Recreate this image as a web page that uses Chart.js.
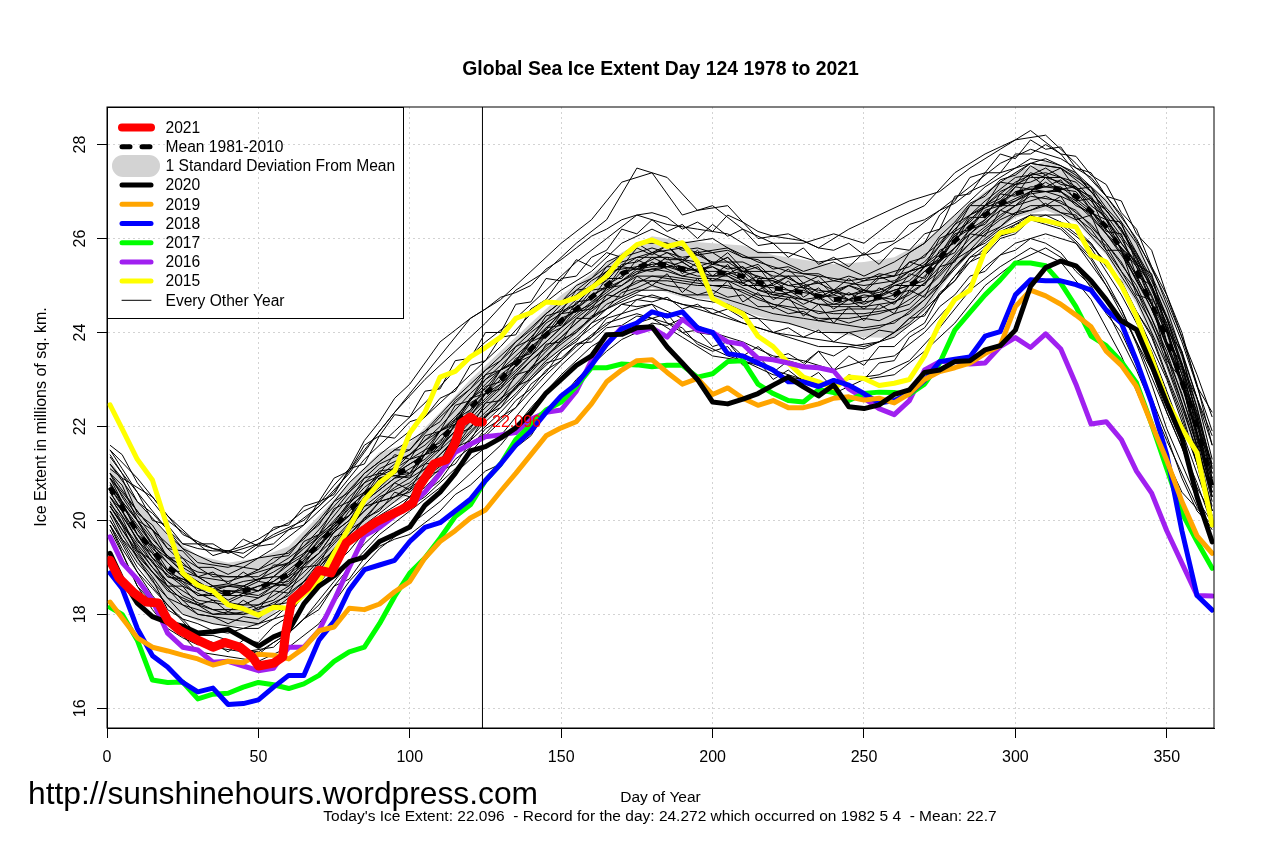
<!DOCTYPE html>
<html>
<head>
<meta charset="utf-8">
<title>Global Sea Ice Extent</title>
<script src="https://cdn.jsdelivr.net/npm/chart.js@4/dist/chart.umd.min.js"></script>
<style>
  html, body { margin: 0; padding: 0; background: #fff; }
  #wrap { width: 1284px; height: 855px; }
</style>
</head>
<body>
<div id="wrap"><canvas id="chart" width="1284" height="855"></canvas></div>
<script>
var xTicks = [0, 50, 100, 150, 200, 250, 300, 350];
var yTicks = [16, 18, 20, 22, 24, 26, 28];

// bold years share this day grid
var dayGrid = [1,5,10,15,20,25,30,35,40,45,50,55,60,65,70,75,80,85,90,95,100,105,110,115,120,125,130,135,140,145,150,155,160,165,170,175,180,185,190,195,200,205,210,215,220,225,230,235,240,245,250,255,260,265,270,275,280,285,290,295,300,305,310,315,320,325,330,335,340,345,350,355,360,365];
var ice2015 = [22.46,21.95,21.3,20.86,19.85,18.88,18.62,18.5,18.2,18.12,17.98,18.15,18.13,18.42,18.7,19.3,19.85,20.43,20.8,21.05,21.86,22.3,23.05,23.17,23.48,23.68,23.9,24.3,24.42,24.65,24.63,24.74,24.95,25.2,25.6,25.87,25.97,25.83,25.91,25.5,24.72,24.55,24.4,23.92,23.7,23.35,23.05,22.95,22.8,23.05,23.02,22.87,22.92,23.0,23.5,24.2,24.7,24.9,25.75,26.12,26.19,26.43,26.38,26.3,26.25,25.65,25.5,25.0,24.35,23.45,22.55,21.95,21.44,19.9];
var ice2016 = [19.65,19.1,18.75,18.3,17.6,17.3,17.24,16.98,17.0,16.9,16.8,16.85,17.3,17.3,17.65,18.3,19.0,19.67,19.85,20.1,20.3,20.6,21.0,21.45,21.62,21.78,21.82,21.87,22.15,22.3,22.35,22.75,23.4,23.75,24.1,24.0,24.1,23.9,24.28,24.05,24.0,23.8,23.75,23.45,23.42,23.35,23.27,23.25,23.18,22.8,22.6,22.38,22.25,22.55,23.2,23.38,23.38,23.33,23.35,23.7,23.89,23.68,23.97,23.65,22.9,22.05,22.1,21.72,21.05,20.58,19.78,19.09,18.4,18.39];
var ice2017 = [18.15,18.0,17.45,16.6,16.55,16.56,16.2,16.3,16.32,16.45,16.55,16.5,16.42,16.52,16.7,17.0,17.2,17.3,17.8,18.38,18.88,19.2,19.62,20.08,20.33,20.85,21.2,21.72,22.03,22.35,22.52,22.85,23.25,23.25,23.33,23.31,23.27,23.3,23.3,23.05,23.12,23.38,23.4,22.9,22.7,22.55,22.52,22.78,22.72,22.55,22.7,22.73,22.72,22.68,22.9,23.35,24.05,24.43,24.8,25.12,25.48,25.48,25.42,25.05,24.55,23.92,23.72,23.38,22.93,22.05,21.1,20.16,19.55,18.98];
var ice2018 = [18.88,18.55,17.7,17.12,16.88,16.55,16.35,16.43,16.08,16.1,16.18,16.45,16.7,16.7,17.45,17.85,18.52,18.95,19.05,19.15,19.55,19.85,19.95,20.2,20.45,20.85,21.2,21.6,21.9,22.3,22.65,22.9,23.3,23.75,24.08,24.2,24.44,24.35,24.44,24.1,24.0,23.55,23.5,23.35,23.2,22.95,22.95,22.85,22.98,22.88,22.7,22.5,22.55,22.7,22.98,23.38,23.43,23.48,23.92,24.02,24.8,25.12,25.1,25.1,25.02,24.9,24.48,24.2,23.4,22.5,21.4,19.78,18.4,18.09];
var ice2019 = [18.26,17.92,17.5,17.3,17.22,17.13,17.05,16.92,17.0,16.97,17.15,17.13,17.05,17.28,17.65,17.73,18.13,18.1,18.22,18.48,18.7,19.2,19.55,19.78,20.05,20.22,20.62,21.0,21.4,21.8,21.97,22.1,22.48,22.95,23.2,23.4,23.42,23.15,22.9,23.02,22.68,22.82,22.6,22.45,22.55,22.4,22.4,22.48,22.6,22.63,22.56,22.6,22.5,22.7,23.0,23.17,23.25,23.35,23.55,23.72,24.55,24.9,24.78,24.6,24.37,24.12,23.6,23.3,22.85,22.05,21.28,20.4,19.67,19.3];
var ice2020 = [19.3,18.75,18.24,17.95,17.83,17.75,17.6,17.63,17.68,17.5,17.32,17.52,17.65,18.22,18.6,18.82,19.12,19.22,19.55,19.7,19.86,20.32,20.6,21.0,21.48,21.57,21.75,21.97,22.29,22.71,23.0,23.3,23.5,23.95,23.96,24.1,24.12,23.69,23.35,23.0,22.52,22.48,22.58,22.7,22.88,23.05,22.84,22.65,22.88,22.42,22.38,22.46,22.68,22.78,23.15,23.2,23.38,23.4,23.63,23.72,24.05,24.98,25.38,25.52,25.42,25.1,24.7,24.25,24.06,23.3,22.5,21.75,20.5,19.54];
var days2021 = [1,4,9,13,17,20,24,30,35,39,44,48,50,55,58,59,61,66,70,74,79,85,89,97,101,103,108,112,115,117,120,122,124];
var ice2021 = [19.15,18.77,18.45,18.26,18.24,17.88,17.66,17.45,17.3,17.4,17.3,17.09,16.9,16.96,17.09,17.6,18.3,18.58,18.94,18.88,19.52,19.8,19.97,20.22,20.37,20.71,21.2,21.29,21.65,22.07,22.2,22.1,22.096];

// mean and one standard deviation band
var bandDays = [1,10,20,30,40,50,60,70,80,90,100,110,120,130,140,150,160,170,180,190,200,210,220,230,240,250,260,270,280,290,300,310,320,330,340,350,360,365];
var meanExtent = [20.7,19.75,19,18.6,18.45,18.55,18.85,19.5,20.2,20.85,21.1,21.7,22.4,23,23.65,24.25,24.75,25.25,25.5,25.35,25.3,25.2,24.95,24.85,24.7,24.72,24.8,25.2,25.95,26.5,26.95,27.15,26.9,26.25,25.3,23.9,22,20.7];
var sdUpper = [21.3,20.4,19.7,19.25,19.1,19.2,19.45,20.1,20.8,21.45,21.65,22.3,23,23.6,24.2,24.8,25.25,25.7,26.05,25.95,25.9,25.85,25.65,25.55,25.45,25.5,25.6,25.95,26.5,27,27.4,27.65,27.4,26.85,25.95,24.6,22.65,21.3];
var sdLower = [20.1,19.1,18.15,17.85,17.75,17.75,18.3,18.9,19.6,20.2,20.55,21.1,21.8,22.45,23.05,23.65,24.25,24.75,24.95,24.75,24.7,24.45,24.25,24.1,23.98,23.9,23.88,24.45,25.35,25.95,26.45,26.6,26.35,25.65,24.6,23.2,21.35,20.1];

// every other year, thin lines
var daysA = [1,10,20,30,40,50,60,70,80,90,100,110,120,130,140,150,160,170,180,190,200,210,220,230,240,250,260,270,280,290,300,310,320,330,340,350,360,365];
var daysB = [1,5,15,25,35,45,55,65,75,85,95,105,115,125,135,145,155,165,175,185,195,205,215,225,235,245,255,265,275,285,295,305,315,325,335,345,355,365];
var thinA = [
  [21.5,20.9,20.1,19.5,19.3,19.5,19.8,20.3,21,21.9,22.7,23.5,24.3,24.7,25.3,25.9,26.4,27.2,27.4,26.5,26.7,26.2,25.9,25.9,26.1,25.9,26.4,26.7,27.4,27.8,28.1,28.2,27.6,26.9,26,24.7,23.1,22.2],
  [21.2,20.4,19.7,19.1,19,19.2,19.3,20,20.8,21.4,21.9,22.5,23.1,23.7,24.4,24.9,25.3,25.9,26.2,25.9,26,25.6,25.6,25.3,25.5,25.2,25.5,25.9,26.5,27.1,27.5,27.7,27.4,26.8,25.9,24.5,22.6,21.3],
  [20.9,20.1,19.2,18.9,18.8,18.8,19.2,19.7,20.5,21.1,21.4,22,22.7,23.3,23.9,24.6,25,25.6,25.8,25.6,25.7,25.3,25.3,25,25.1,25,25.1,25.5,26.2,26.8,27.3,27.4,27.2,26.5,25.6,24.2,22.3,21],
  [20.3,19.5,18.7,18.3,18.2,18.2,18.6,19.2,19.9,20.5,20.8,21.4,22.1,22.7,23.4,23.9,24.5,24.9,25.2,25.1,25,24.9,24.6,24.5,24.4,24.4,24.5,24.9,25.6,26.2,26.7,26.9,26.6,25.9,25,23.6,21.7,20.4],
  [20.7,19.9,19.1,18.5,18.6,18.5,18.9,19.4,20.3,20.8,21.2,21.6,22.5,22.9,23.7,24.2,24.8,25.1,25.6,25.3,25.4,25.1,25.1,24.7,24.8,24.6,24.9,25.1,26,26.4,27,27.1,27,26.2,25.4,23.8,22.1,20.6],
  [20.5,19.6,18.8,18.7,18.3,18.6,18.7,19.6,20.1,20.9,21,21.8,22.3,23.1,23.6,24.3,24.6,25.3,25.4,25.4,25.2,25.3,24.8,24.9,24.6,24.8,24.7,25.3,25.8,26.6,26.8,27.2,26.8,26.3,25.2,24,21.9,20.8],
  [21,20.2,19.4,18.8,18.7,18.9,19.1,19.8,20.6,21.2,21.5,22.2,22.8,23.4,24,24.5,25.1,25.5,25.7,25.8,25.5,25.5,25.2,25.2,24.9,25.1,25.2,25.4,26.3,26.7,27.2,27.5,27.1,26.6,25.7,24.3,22.4,21.1],
  [20.2,19.3,18.5,18.2,18,18.1,18.4,19,19.7,20.4,20.6,21.2,21.9,22.5,23.2,23.8,24.3,24.7,25,24.8,24.8,24.6,24.4,24.3,24.2,24.1,24.2,24.7,25.4,26,26.5,26.7,26.4,25.7,24.7,23.3,21.5,20.2],
  [20.8,19.8,18.9,18.4,18.5,18.4,18.8,19.3,20.2,20.7,21.3,21.5,22.6,22.8,23.8,24.1,24.9,25,25.5,25.2,25.4,25,25,24.6,24.9,24.5,25,25,26.1,26.3,27.1,27,27.1,26.1,25.5,23.7,22.2,20.5],
  [20,19,18.2,17.5,17.3,17.2,17.6,18.2,19,19.7,20.2,20.7,21.3,21.8,22.6,23.3,23.9,24.4,24.6,24.3,24,23.8,23.5,23.4,23.2,23.4,23.5,24,24.7,25.4,25.9,26.1,25.9,25,23.8,22.3,20.8,19.9],
  [20.4,19.4,18.6,18,17.9,17.8,18.2,18.8,19.5,20.1,20.5,21.1,21.7,22.3,23,23.6,24.1,24.6,24.8,24.6,24.5,24.2,24,23.9,23.8,23.7,23.9,24.4,25.2,25.8,26.3,26.5,26.2,25.5,24.4,23,21.2,20.2],
  [20.6,19.7,18.9,18.6,18.4,18.7,18.6,19.5,20,21,20.9,21.9,22.2,23.2,23.5,24.4,24.5,25.4,25.3,25.5,25.1,25.4,24.7,25,24.5,24.9,24.6,25.4,25.7,26.7,26.7,27.3,26.7,26.4,25.1,24.1,21.8,20.7],
  [19.9,18.6,17.9,17.2,17.1,17,17.3,17.8,18.7,19.4,19.9,20.4,21,21.6,22.4,23.1,23.7,24.1,24.3,23.9,23.5,23.4,23.1,23,22.7,23,23.1,23.6,24.2,25,25.5,25.8,25.4,24.5,23.2,21.7,20.3,19.8]
];
var thinB = [
  [21.2,20.9,20.5,19.7,19.4,19.3,19.7,20,20.6,21.5,22.3,23,23.6,24.2,24.9,25.3,25.9,26.4,27.5,27.3,26.6,26.7,26,26.1,25.8,26.2,26.5,26.8,27,27.5,27.9,28.3,27.8,27,26.2,25.1,23.6,21.6],
  [20.9,20.6,19.8,19.2,18.8,18.8,19.1,19.6,20.3,21,21.5,21.9,22.6,23.2,23.8,24.4,24.9,25.4,25.9,25.9,25.7,25.8,25.5,25.3,25.2,25.1,25.2,25.4,25.9,26.7,27.2,27.6,27.5,27,26.2,25,23.3,21.2],
  [20.6,20.2,19.2,18.7,18.4,18.4,18.6,19.1,19.8,20.4,20.9,21.3,21.9,22.6,23.2,23.8,24.4,24.9,25.3,25.4,25.2,25.2,24.9,24.8,24.6,24.6,24.7,24.9,25.5,26.1,26.7,27,27,26.5,25.7,24.5,22.9,20.6],
  [20.3,19.9,19,18.4,18.1,18.1,18.3,18.8,19.5,20.2,20.7,21.1,21.7,22.3,22.9,23.6,24.2,24.7,25.1,25.1,25,25,24.7,24.5,24.3,24.3,24.4,24.6,25.2,25.9,26.4,26.7,26.7,26.2,25.3,24.2,22.5,20.3],
  [21,20.5,19.5,19,18.6,18.6,18.9,19.3,20,20.7,21.2,21.6,22.2,22.9,23.5,24.1,24.7,25.2,25.6,25.6,25.5,25.4,25.2,25,24.9,24.8,24.9,25.2,25.7,26.4,27,27.3,27.3,26.8,26,24.8,23.2,21],
  [20.8,20.4,19.6,18.9,18.5,18.7,18.8,19.4,19.9,20.8,21.1,21.7,22.1,23,23.4,24.2,24.6,25.3,25.4,25.7,25.3,25.6,24.9,25.2,24.7,25,24.8,25.3,25.5,26.5,26.8,27.4,27.2,26.9,25.9,25,23.1,20.9],
  [20.5,20.1,19.1,18.6,18.3,18.2,18.5,19,19.6,20.3,20.8,21.2,21.8,22.5,23.1,23.7,24.3,24.8,25.2,25.2,25.1,25.1,24.8,24.7,24.4,24.5,24.5,24.8,25.3,26,26.5,26.9,26.8,26.3,25.5,24.3,22.7,20.5],
  [19.9,19.4,18.4,17.6,17.3,17.2,17.3,17.9,18.7,19.5,20.1,20.5,21.1,21.8,22.4,23.1,23.7,24.2,24.4,24.2,23.8,23.5,23.3,23.1,22.9,23,23.1,23.4,24.1,24.9,25.4,25.8,25.5,24.7,23.5,22,20.6,19.9],
  [20.2,19.7,18.7,18,17.8,17.7,17.9,18.5,19.2,19.9,20.4,20.9,21.4,22.1,22.7,23.4,23.9,24.5,24.8,24.7,24.5,24.3,24.1,23.9,23.7,23.7,23.8,24.2,24.8,25.6,26.1,26.4,26.3,25.8,24.8,23.6,21.9,20.1],
  [21.4,21,20.2,19.4,19.1,19,19.4,19.9,20.5,21.3,21.9,22.5,23.2,23.8,24.3,24.9,25.5,26,26.5,26.3,26.2,26.1,25.7,25.7,25.5,25.6,25.7,26.1,26.6,27.1,27.6,27.9,27.7,27.3,26.5,25.4,23.8,21.9],
  [20.7,20.3,19.4,18.8,18.5,18.5,18.7,19.2,19.9,20.6,21,21.4,22,22.7,23.3,24,24.5,25,25.4,25.5,25.3,25.3,25,24.9,24.8,24.7,24.8,25,25.6,26.3,26.8,27.1,27.1,26.6,25.8,24.6,23,20.7],
  [20.1,19.6,18.9,18.2,18,18,18.1,18.6,19.4,20,20.5,21,21.5,22.2,22.8,23.5,24,24.6,24.9,24.9,24.7,24.6,24.3,24.2,24,24,24.1,24.4,25,25.7,26.2,26.5,26.5,25.9,25,23.9,22.2,20.2]
];
// thin years read on the same 5 day grid as the bold ones
var thinC = [
  [21.5,21.1,20.6,20.0,19.9,19.5,19.5,19.25,19.35,19.2,19.45,19.5,19.8,19.9,20.4,20.55,21.1,21.2,21.8,21.75,22.1,22.2,22.6,22.75,23.3,23.4,23.9,23.95,24.5,24.7,25.15,25.2,25.6,25.75,26.2,26.1,26.4,26.15,26.3,26.0,26.3,26.05,26.2,25.85,25.9,25.6,25.8,25.45,25.6,25.4,25.7,25.45,25.8,25.75,26.1,26.2,26.9,26.95,27.4,27.4,27.8,27.8,28.0,27.8,27.75,27.35,27.15,26.55,26.2,25.4,24.8,23.9,22.9,21.6],
  [21.1,20.9,20.15,19.9,19.4,19.35,19.0,19.0,18.85,19.0,18.95,19.2,19.25,19.65,19.9,20.4,20.6,21.0,21.25,21.5,21.5,21.9,22.1,22.55,22.8,23.2,23.4,23.8,24.05,24.4,24.65,25.0,25.15,25.5,25.65,25.9,25.95,25.9,25.75,25.8,25.7,25.75,25.6,25.55,25.35,25.4,25.25,25.25,25.1,25.2,25.1,25.25,25.2,25.5,25.6,26.05,26.35,26.75,26.9,27.25,27.35,27.6,27.55,27.5,27.3,27.1,26.65,26.3,25.7,25.15,24.3,23.5,22.4,21.1],
  [20.9,20.4,20.0,19.45,19.2,18.9,18.8,18.6,18.65,18.6,18.75,18.8,19.05,19.25,19.7,19.95,20.4,20.6,21.05,21.1,21.3,21.5,21.9,22.15,22.6,22.8,23.2,23.4,23.85,24.05,24.45,24.6,24.95,25.1,25.45,25.5,25.7,25.55,25.55,25.4,25.5,25.35,25.4,25.15,25.15,25.0,25.05,24.85,24.9,24.8,24.9,24.85,25.0,25.1,25.4,25.65,26.15,26.35,26.7,26.85,27.15,27.2,27.35,27.15,27.1,26.7,26.45,25.9,25.5,24.75,24.1,23.1,22.2,20.9],
  [20.5,20.2,19.55,19.3,18.8,18.7,18.4,18.4,18.25,18.4,18.35,18.6,18.65,19.05,19.3,19.75,20.0,20.4,20.65,20.9,20.95,21.25,21.55,21.9,22.25,22.55,22.85,23.15,23.5,23.8,24.1,24.35,24.6,24.85,25.1,25.25,25.35,25.3,25.2,25.15,25.15,25.1,25.05,24.9,24.8,24.75,24.7,24.6,24.55,24.55,24.55,24.6,24.65,24.85,25.05,25.4,25.8,26.1,26.35,26.6,26.8,26.95,27.0,26.9,26.75,26.45,26.1,25.65,25.15,24.5,23.75,22.85,21.85,20.5],
  [20.2,19.8,19.35,18.9,18.6,18.3,18.2,18.0,18.05,18.0,18.15,18.2,18.45,18.7,19.1,19.35,19.8,20.0,20.4,20.5,20.7,20.9,21.3,21.55,22.0,22.2,22.6,22.8,23.25,23.45,23.85,24.0,24.35,24.5,24.85,24.95,25.1,25.0,24.95,24.8,24.9,24.75,24.8,24.55,24.55,24.4,24.45,24.25,24.3,24.2,24.3,24.25,24.4,24.5,24.8,25.05,25.55,25.75,26.1,26.25,26.55,26.6,26.75,26.55,26.5,26.1,25.85,25.3,24.9,24.15,23.5,22.5,21.6,20.2],
  [19.9,19.5,18.9,18.55,18.2,17.9,17.8,17.65,17.6,17.7,17.7,17.9,18.0,18.4,18.65,19.05,19.35,19.75,19.95,20.25,20.25,20.6,20.85,21.3,21.55,21.95,22.15,22.55,22.8,23.2,23.4,23.75,23.9,24.3,24.4,24.7,24.65,24.75,24.5,24.6,24.4,24.5,24.3,24.3,24.0,24.1,23.9,24.05,23.8,24.0,23.85,24.05,24.0,24.3,24.35,24.85,25.1,25.6,25.7,26.05,26.15,26.4,26.35,26.35,26.1,25.9,25.4,25.1,24.45,23.95,23.1,22.3,21.2,19.9],
  [21.6,21.4,20.8,20.4,20.0,19.75,19.5,19.5,19.3,19.6,19.45,19.85,19.9,20.3,20.4,20.9,21.05,21.6,21.8,22.25,22.2,22.75,22.8,23.4,23.45,24.0,24.0,24.6,24.65,25.15,25.1,25.55,25.4,25.7,25.6,25.9,25.7,25.85,25.55,25.7,25.45,25.6,25.3,25.4,25.0,25.2,24.95,25.1,24.8,25.0,24.85,25.15,25.2,25.7,25.9,26.5,26.8,27.3,27.4,27.8,27.7,28.1,27.9,27.95,27.5,27.4,26.9,26.8,26.1,25.75,24.8,24.0,22.85,22.3],
  [20.3,19.9,19.2,18.8,18.35,18.2,18.0,17.95,17.8,17.95,17.9,18.2,18.25,18.7,18.9,19.4,19.55,20.05,20.2,20.6,20.5,20.95,21.05,21.55,21.7,22.25,22.4,22.85,23.0,23.35,23.45,23.75,23.8,24.1,24.15,24.35,24.3,24.4,24.0,24.05,23.7,23.8,23.4,23.5,23.15,23.4,23.3,23.6,23.2,23.5,23.3,23.7,23.7,24.0,24.2,24.8,25.1,25.5,25.65,26.0,26.1,26.4,26.3,26.2,25.9,25.55,25.0,24.5,23.8,23.2,22.3,21.55,20.7,20.1],
  [19.8,19.3,18.6,18.1,17.7,17.5,17.35,17.4,17.2,17.45,17.4,17.75,17.95,18.45,18.8,19.2,19.5,19.7,20.1,20.15,20.5,20.7,21.05,21.2,21.65,21.85,22.2,22.4,22.9,23.15,23.6,23.8,24.2,24.35,24.6,24.55,24.6,24.2,24.1,23.75,23.6,23.7,23.3,23.4,23.0,23.2,22.95,23.15,22.8,23.1,23.0,23.35,23.4,23.9,24.1,24.55,24.8,25.2,25.3,25.65,25.75,26.0,25.9,25.7,25.3,25.0,24.4,24.0,23.3,22.6,21.8,20.9,20.2,19.85],
  [21.0,20.75,20.0,19.8,19.2,19.2,18.8,18.9,18.65,18.9,18.7,19.05,19.05,19.55,19.7,20.25,20.4,20.9,21.0,21.4,21.3,21.8,21.9,22.45,22.55,23.1,23.2,23.7,23.85,24.35,24.45,24.9,24.95,25.4,25.4,25.8,25.65,25.85,25.5,25.75,25.45,25.7,25.35,25.45,25.15,25.35,25.05,25.2,24.9,25.15,24.9,25.2,25.05,25.5,25.4,26.0,26.15,26.7,26.7,27.2,27.15,27.55,27.35,27.5,27.05,27.1,26.4,26.35,25.45,25.25,24.05,23.6,22.1,21.15],
  [20.35,20.05,19.35,19.15,18.6,18.6,18.2,18.3,18.05,18.3,18.1,18.5,18.45,19.0,19.05,19.65,19.75,20.3,20.4,20.8,20.65,21.2,21.25,21.85,21.95,22.5,22.55,23.1,23.2,23.75,23.8,24.3,24.3,24.8,24.75,25.2,25.0,25.25,24.85,25.15,24.8,25.1,24.65,24.85,24.5,24.75,24.35,24.6,24.2,24.55,24.25,24.6,24.4,24.9,24.75,25.4,25.5,26.1,26.05,26.6,26.5,27.0,26.7,26.9,26.4,26.5,25.75,25.75,24.8,24.7,23.4,23.0,21.5,20.6],
  [21.35,21.0,20.4,20.15,19.8,19.5,19.4,19.35,19.35,19.45,19.6,19.8,19.95,20.2,20.35,20.75,21.1,21.7,22.1,22.6,22.9,23.35,23.8,24.05,24.3,24.5,24.75,24.85,25.0,25.35,25.55,25.8,26.05,26.2,26.4,26.5,26.55,26.45,26.2,26.35,26.15,26.5,26.35,26.15,26.05,26.0,25.95,25.8,25.75,25.9,25.65,25.9,25.95,26.3,26.4,26.6,26.75,27.0,27.15,27.4,27.5,27.7,27.65,27.55,27.35,27.0,26.6,26.2,25.55,24.95,24.3,23.3,22.6,21.8],
  [20.0,19.6,19.1,18.75,18.1,17.9,17.55,17.55,17.45,17.3,17.15,17.4,17.6,17.9,18.1,18.6,18.75,19.2,19.45,19.6,19.7,19.95,20.2,20.55,20.75,21.05,21.2,21.55,21.8,22.3,22.6,23.0,23.3,23.6,23.85,24.0,24.2,24.15,24.3,24.0,23.95,23.8,23.5,23.7,23.45,23.55,23.35,23.6,23.5,23.7,23.65,23.8,24.0,24.3,24.55,25.0,25.4,25.75,25.9,26.15,26.3,26.5,26.35,26.25,25.95,25.6,25.1,24.5,23.75,22.9,21.95,21.2,20.45,19.95],
  [20.75,20.4,19.7,19.45,18.95,18.9,18.55,18.6,18.4,18.6,18.5,18.8,18.8,19.3,19.45,19.95,20.1,20.6,20.75,21.15,21.0,21.5,21.65,22.15,22.35,22.85,22.95,23.45,23.55,24.1,24.15,24.65,24.7,25.15,25.15,25.55,25.4,25.6,25.25,25.5,25.2,25.45,25.05,25.2,24.85,25.1,24.75,24.95,24.65,24.85,24.65,24.95,24.8,25.25,25.15,25.75,25.9,26.45,26.45,26.95,26.9,27.35,27.1,27.25,26.8,26.85,26.15,26.1,25.2,25.0,23.8,23.35,21.85,20.85]
];

// day marker for the current day
var markerDay = [124, 124];
var markerRange = [15.58, 28.8];

var legendRows = [
  ['2021', '#ff0000', 8, null],
  ['Mean 1981-2010', '#000000', 5, [8, 12]],
  ['1 Standard Deviation From Mean', '#d3d3d3', 22, null],
  ['2020', '#000000', 5, null],
  ['2019', '#ffa500', 5, null],
  ['2018', '#0000ff', 5, null],
  ['2017', '#00ff00', 5, null],
  ['2016', '#a020f0', 5, null],
  ['2015', '#ffff00', 5, null],
  ['Every Other Year', '#000000', 1, null]
];

function pairs(xs, ys) {
  return xs.map(function (x, i) { return { x: x, y: ys[i] }; });
}

function bold(label, xs, ys, color, width) {
  return { label: label, data: pairs(xs, ys), borderColor: color, borderWidth: width, borderCapStyle: 'round', borderJoinStyle: 'round', pointRadius: 0, fill: false, tension: 0 };
}

function thin(label, xs, ys) {
  return { label: label, data: pairs(xs, ys), borderColor: '#000', borderWidth: 1, pointRadius: 0 };
}

var datasets = [
  { label: 'Day', data: pairs(markerDay, markerRange), borderColor: '#000', borderWidth: 1, pointRadius: 0 },
  bold('2021', days2021, ice2021, '#ff0000', 9),
  bold('2020', dayGrid, ice2020, '#000000', 5),
  bold('2019', dayGrid, ice2019, '#ffa500', 5),
  bold('2018', dayGrid, ice2018, '#0000ff', 5),
  bold('2017', dayGrid, ice2017, '#00ff00', 5),
  bold('2016', dayGrid, ice2016, '#a020f0', 5),
  bold('2015', dayGrid, ice2015, '#ffff00', 5),
  { label: 'Mean 1981-2010', data: pairs(bandDays, meanExtent), borderColor: '#000', borderWidth: 5, borderDash: [8, 12], pointRadius: 0 }
];
thinC.forEach(function (ys, i) { datasets.push(thin('C' + i, dayGrid, ys)); });
thinA.forEach(function (ys, i) { datasets.push(thin('A' + i, daysA, ys)); });
thinB.forEach(function (ys, i) { datasets.push(thin('B' + i, daysB, ys)); });
datasets.push({ label: 'SD upper', data: pairs(bandDays, sdUpper), borderWidth: 0, pointRadius: 0, backgroundColor: '#d3d3d3', fill: '+1' });
datasets.push({ label: 'SD lower', data: pairs(bandDays, sdLower), borderWidth: 0, pointRadius: 0, fill: false });

var FONT = '"Liberation Sans", Arial, sans-serif';

function put(ctx, text, x, y, font, color, align, rot) {
  ctx.save();
  ctx.font = font;
  ctx.fillStyle = color || '#000';
  ctx.textAlign = align || 'center';
  ctx.textBaseline = 'middle';
  ctx.translate(x, y);
  if (rot) ctx.rotate(rot);
  ctx.fillText(text, 0, 0);
  ctx.restore();
}

var decor = {
  id: 'decor',
  afterDatasetsDraw: function (chart) {
    var ctx = chart.ctx, a = chart.chartArea;
    // plot box
    ctx.save();
    ctx.strokeStyle = '#000';
    ctx.lineWidth = 1;
    ctx.strokeRect(a.left, a.top, a.right - a.left, a.bottom - a.top);
    // legend
    ctx.strokeRect(107.5, 107.5, 296, 211);
    legendRows.forEach(function (r, i) {
      var y = 127.5 + i * 19.2;
      ctx.beginPath();
      ctx.lineCap = 'round';
      ctx.strokeStyle = r[1];
      ctx.lineWidth = r[2];
      ctx.setLineDash(r[3] || []);
      if (r[2] > 10) { ctx.moveTo(123, y); ctx.lineTo(149, y); }
      else { ctx.moveTo(122, y); ctx.lineTo(151, y); }
      ctx.stroke();
      ctx.setLineDash([]);
      put(ctx, r[0], 165.5, y + 1, '15.6px ' + FONT, '#000', 'left');
    });
    ctx.restore();

    yTicks.forEach(function (v) {
      put(ctx, String(v), 81, chart.scales.y.getPixelForValue(v), '16px ' + FONT, '#000', 'center', -Math.PI / 2);
    });
    put(ctx, 'Global Sea Ice Extent Day 124 1978 to 2021', 660.5, 70, 'bold 19.4px ' + FONT);
    put(ctx, 'Ice Extent in millions of sq. km.', 42, 417, '16px ' + FONT, '#000', 'center', -Math.PI / 2);
    put(ctx, 'Day of Year', 660.5, 798, '15.5px ' + FONT);
    put(ctx, "Today's Ice Extent: 22.096  - Record for the day: 24.272 which occurred on 1982 5 4  - Mean: 22.7", 660, 817, '15.5px ' + FONT);
    put(ctx, 'http://sunshinehours.wordpress.com', 28, 795, '31.75px ' + FONT, '#000', 'left');
    put(ctx, '22.096', 492, 423, '16px ' + FONT, '#ff0000', 'left');
  }
};

new Chart(document.getElementById('chart').getContext('2d'), {
  type: 'line',
  data: { datasets: datasets },
  plugins: [decor],
  options: {
    responsive: false,
    animation: false,
    layout: { padding: { top: 107, right: 70, left: 0, bottom: 0 } },
    plugins: { legend: { display: false }, title: { display: false }, tooltip: { enabled: false } },
    elements: { line: { tension: 0 } },
    scales: {
      x: {
        type: 'linear',
        min: 0,
        max: 365.6,
        afterBuildTicks: function (s) { s.ticks = xTicks.map(function (v) { return { value: v }; }); },
        afterFit: function (s) { s.height = 127; },
        border: { color: '#000', dash: [2, 3] },
        grid: { color: '#d3d3d3', tickColor: '#000', tickLength: 10, tickBorderDash: [], drawOnChartArea: true },
        ticks: { color: '#000', font: { family: FONT, size: 16 }, padding: 10, maxRotation: 0, autoSkip: false }
      },
      y: {
        min: 15.58,
        max: 28.8,
        afterBuildTicks: function (s) { s.ticks = yTicks.map(function (v) { return { value: v }; }); },
        afterFit: function (s) { s.width = 107; },
        border: { color: '#000', dash: [2, 3] },
        grid: { color: '#d3d3d3', tickColor: '#000', tickLength: 10, tickBorderDash: [] },
        ticks: { display: false }
      }
    }
  }
});
</script>
</body>
</html>
